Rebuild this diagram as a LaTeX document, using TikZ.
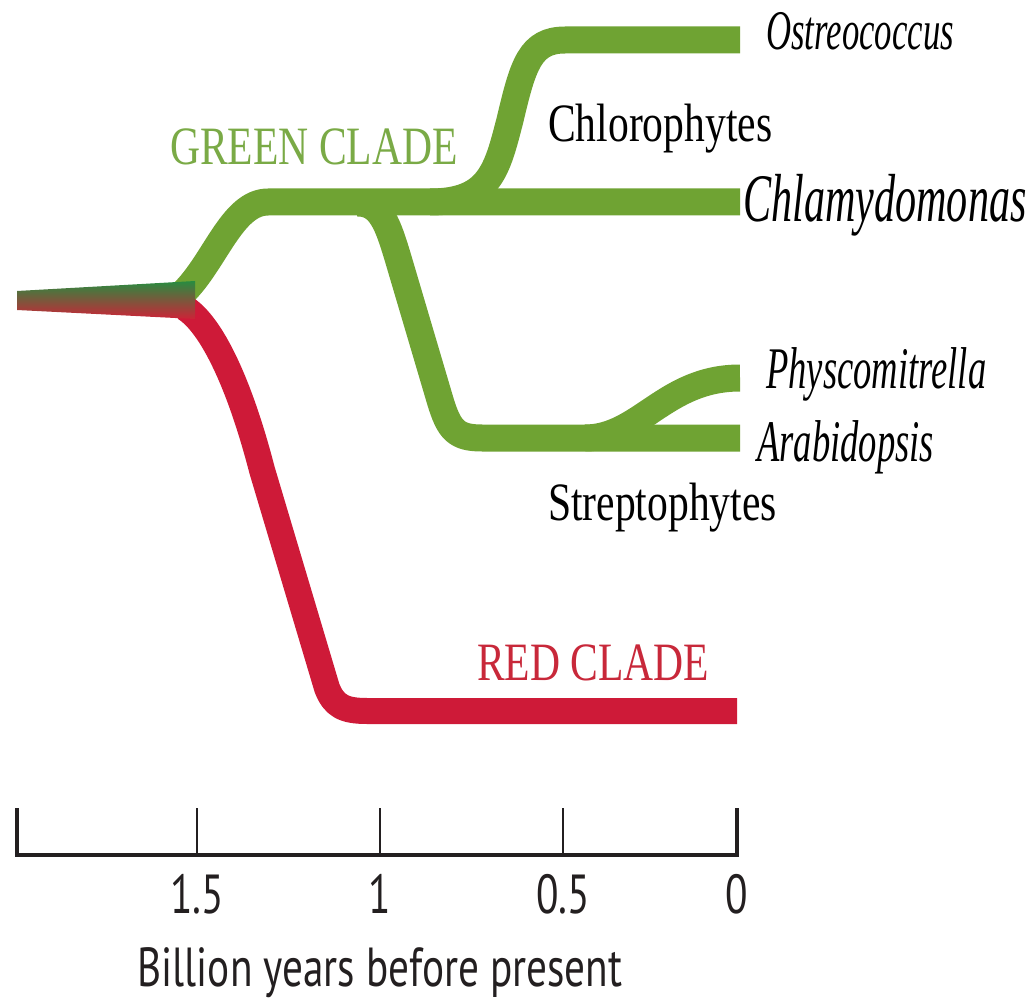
\documentclass[tikz,border=0pt]{standalone}
\usepackage{fontspec}
\setmainfont{Liberation Serif}
\newfontfamily\labrm[FakeStretch=0.77]{Liberation Serif}
\newfontfamily\labit[FakeStretch=0.62]{Liberation Serif}
\newfontfamily\labsf[FakeStretch=0.75]{PT Sans}
\definecolor{cgreen}{RGB}{111,163,51}
\definecolor{cgreentext}{RGB}{122,170,70}
\definecolor{cred}{RGB}{206,26,56}
\definecolor{credtext}{RGB}{200,40,58}
\definecolor{wgreen}{RGB}{40,140,64}
\definecolor{wred}{RGB}{205,35,55}
\definecolor{axisc}{RGB}{35,31,32}
\tikzset{
  gbranch/.style={draw=cgreen,line width=27pt,line cap=butt,line join=round},
  rbranch/.style={draw=cred,line width=26pt,line cap=butt,line join=round},
  uplab/.style={inner sep=0pt,anchor=base west,font=\labrm\fontsize{54}{60}\selectfont},
  itlab/.style={inner sep=0pt,anchor=base west,font=\labit\itshape\fontsize{59}{64}\selectfont},
  sflab/.style={inner sep=0pt,anchor=base,font=\labsf\fontsize{55}{60}\selectfont,text=axisc},
  axisline/.style={draw=axisc,line width=3.5pt,line join=miter},
  tickline/.style={draw=axisc,line width=2.6pt}
}
\begin{document}
\begin{tikzpicture}[x=1pt,y=-1pt]
\useasboundingbox (0,0) rectangle (1034,1003);
% tips and junctions
\coordinate (ostr) at (740,40);
\coordinate (chla) at (740,202);
\coordinate (phys) at (740,378);
\coordinate (arab) at (740,438);
\coordinate (redtip) at (737,711);
% green clade
\draw[gbranch] (183,293) .. controls (215,262) and (232,202) .. (268,202) -- (chla);
\draw[gbranch] (430,202) .. controls (490,202) and (497,170) .. (510,120) .. controls (523,65) and (530,40) .. (565,40) -- (ostr);
\draw[gbranch] (358,203) .. controls (381,203) and (388,225) .. (398,258) -- (440,400) .. controls (449,430) and (456,438) .. (482,438) -- (arab);
\draw[gbranch] (585,438) .. controls (640,438) and (665,378) .. (phys);
% red clade
\draw[rbranch] (185,308) .. controls (212,325) and (240,385) .. (262,470) -- (327,688) .. controls (334,706) and (344,711) .. (367,711) -- (redtip);
% root wedge
\shade[top color=wgreen,bottom color=wred] (17,291) -- (195,281) -- (195,319) -- (17,310) -- cycle;
% labels
\node[uplab,text=cgreentext] (greenclade) at (170,165) {GREEN CLADE};
\node[uplab,text=credtext] (redclade) at (477,680) {RED CLADE};
\node[uplab] (chloro) at (548,142) {Chlorophytes};
\node[uplab] (strepto) at (548,520) {Streptophytes};
\node[itlab,font=\labit\itshape\fontsize{56}{60}\selectfont] (ostreo) at (766,50) {Ostreococcus};
\node[itlab,font=\labit\itshape\fontsize{68}{72}\selectfont] (chlamy) at (743,222) {Chlamydomonas};
\node[itlab] (physco) at (766,388) {Physcomitrella};
\node[itlab] (arabid) at (757,461) {Arabidopsis};
% axis
\draw[axisline] (17,808) -- (17,855) -- (737,855) -- (737,808);
\foreach \xx in {197,380,563}{
  \draw[tickline] (\xx,855) -- (\xx,808);
}
\node[sflab] (l15) at (197,913) {1.5};
\node[sflab] (l1) at (380,913) {1};
\node[sflab] (l05) at (563,913) {0.5};
\node[sflab] (l0) at (737,913) {0};
\node[sflab] (xlabel) at (380,986) {Billion years before present};
\end{tikzpicture}
\end{document}
